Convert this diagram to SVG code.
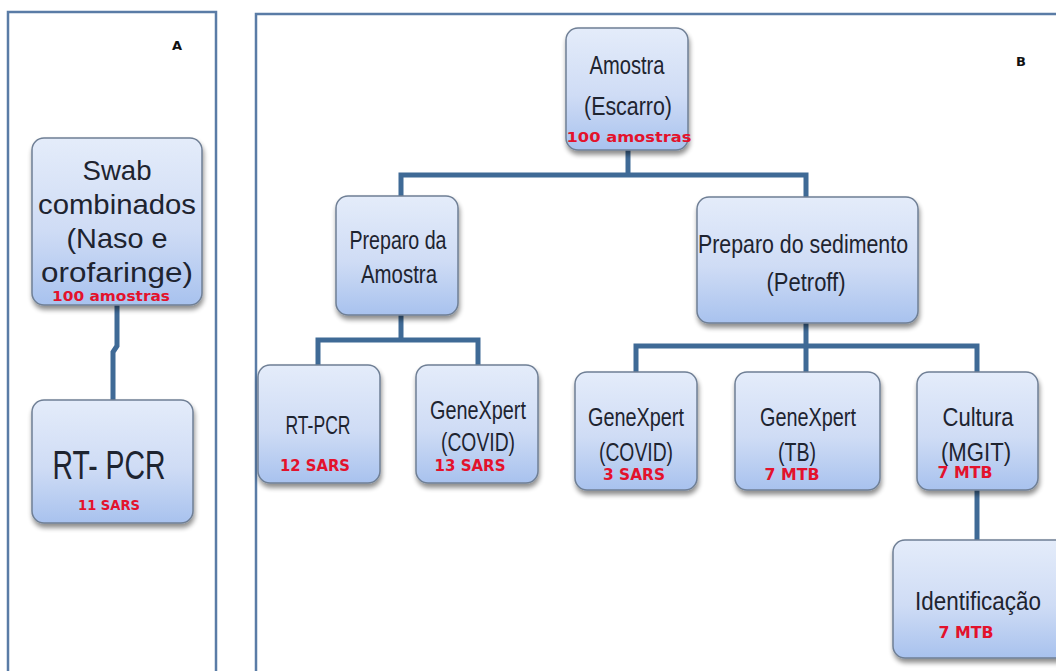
<svg xmlns="http://www.w3.org/2000/svg" width="1056" height="671" viewBox="0 0 1056 671">
<defs>
<linearGradient id="g" x1="0" y1="0" x2="0" y2="1">
<stop offset="0" stop-color="#e4ecfa"/>
<stop offset="0.55" stop-color="#cfdcf5"/>
<stop offset="1" stop-color="#a8c2ee"/>
</linearGradient>
<filter id="sh" x="-10%" y="-10%" width="125%" height="130%">
<feGaussianBlur in="SourceAlpha" stdDeviation="2.5"/>
<feOffset dx="1" dy="4" result="b"/>
<feComponentTransfer><feFuncA type="linear" slope="0.45"/></feComponentTransfer>
<feMerge><feMergeNode/><feMergeNode in="SourceGraphic"/></feMerge>
</filter>
</defs>
<style>
.panel{fill:#ffffff;stroke:#5a7ca6;stroke-width:2.5}
.box{fill:url(#g);stroke:#6f7f95;stroke-width:1.5;filter:url(#sh)}
.t{font-family:"Liberation Sans",Arial,sans-serif;fill:#1e2430;text-anchor:middle}
.r{font-family:"DejaVu Sans",Verdana,sans-serif;font-weight:bold;fill:#e3122c;text-anchor:middle}
.lab{font-family:"DejaVu Sans",Verdana,sans-serif;font-weight:bold;font-size:13px;fill:#111}
.c{fill:none;stroke:#3f6a96;stroke-width:5}
</style>
<rect width="1056" height="671" fill="#ffffff"/>
<rect class="panel" x="8" y="12" width="208" height="680"/>
<rect class="panel" x="256" y="14" width="820" height="680"/>
<text class="lab" x="172" y="50">A</text>
<text class="lab" x="1016" y="66">B</text>

<g id="connectors">
<polyline class="c" points="117,305 117,346 113,352 113,402"/>
<polyline class="c" points="628,150 628,175"/>
<polyline class="c" points="401,198 401,175 806,175 806,199"/>
<polyline class="c" points="401,315 401,340"/>
<polyline class="c" points="318,367 318,340 478,340 478,367"/>
<polyline class="c" points="806,323 806,374"/>
<polyline class="c" points="636,374 636,346 977,346 977,374"/>
<polyline class="c" points="977,490 977,542"/>
</g>

<g id="swab">
<rect class="box" x="32" y="138" width="170" height="167" rx="12"/>
<text class="t" font-size="28" x="117" y="180" textLength="69" lengthAdjust="spacingAndGlyphs">Swab</text>
<text class="t" font-size="28" x="117" y="214" textLength="158" lengthAdjust="spacingAndGlyphs">combinados</text>
<text class="t" font-size="28" x="117" y="248" textLength="101" lengthAdjust="spacingAndGlyphs">(Naso e</text>
<text class="t" font-size="28" x="117" y="282" textLength="152" lengthAdjust="spacingAndGlyphs">orofaringe)</text>
<text class="r" font-size="14" x="111" y="301" textLength="118" lengthAdjust="spacingAndGlyphs">100 amostras</text>
</g>

<g id="rtpcr-a">
<rect class="box" x="32" y="400" width="161" height="123" rx="12"/>
<text class="t" font-size="40" x="109" y="479" textLength="113" lengthAdjust="spacingAndGlyphs">RT- PCR</text>
<text class="r" font-size="14" x="109" y="510" textLength="62" lengthAdjust="spacingAndGlyphs">11 SARS</text>
</g>

<g id="amostra">
<rect class="box" x="566" y="28" width="122" height="122" rx="12"/>
<text class="t" font-size="25" x="627" y="74" textLength="75" lengthAdjust="spacingAndGlyphs">Amostra</text>
<text class="t" font-size="25" x="628" y="115" textLength="88" lengthAdjust="spacingAndGlyphs">(Escarro)</text>
<text class="r" font-size="14" x="629" y="142" textLength="125" lengthAdjust="spacingAndGlyphs">100 amostras</text>
</g>

<g id="preparo-amostra">
<rect class="box" x="336" y="196" width="122" height="119" rx="12"/>
<text class="t" font-size="25" x="398" y="249" textLength="97" lengthAdjust="spacingAndGlyphs">Preparo da</text>
<text class="t" font-size="25" x="399" y="283" textLength="76" lengthAdjust="spacingAndGlyphs">Amostra</text>
</g>

<g id="preparo-sedimento">
<rect class="box" x="697" y="197" width="221" height="126" rx="12"/>
<text class="t" font-size="25" x="803" y="253" textLength="210" lengthAdjust="spacingAndGlyphs">Preparo do sedimento</text>
<text class="t" font-size="25" x="806" y="291" textLength="79" lengthAdjust="spacingAndGlyphs">(Petroff)</text>
</g>

<g id="rtpcr-b">
<rect class="box" x="258" y="365" width="122" height="118" rx="12"/>
<text class="t" font-size="25" x="318" y="434" textLength="65" lengthAdjust="spacingAndGlyphs">RT-PCR</text>
<text class="r" font-size="15" x="315" y="471" textLength="70" lengthAdjust="spacingAndGlyphs">12 SARS</text>
</g>

<g id="genexpert-covid-1">
<rect class="box" x="416" y="365" width="122" height="118" rx="12"/>
<text class="t" font-size="25" x="478" y="419" textLength="96" lengthAdjust="spacingAndGlyphs">GeneXpert</text>
<text class="t" font-size="25" x="478" y="451" textLength="74" lengthAdjust="spacingAndGlyphs">(COVID)</text>
<text class="r" font-size="15" x="470" y="471" textLength="71" lengthAdjust="spacingAndGlyphs">13 SARS</text>
</g>

<g id="genexpert-covid-2">
<rect class="box" x="575" y="372" width="122" height="118" rx="12"/>
<text class="t" font-size="25" x="636" y="426" textLength="96" lengthAdjust="spacingAndGlyphs">GeneXpert</text>
<text class="t" font-size="25" x="636" y="461" textLength="74" lengthAdjust="spacingAndGlyphs">(COVID)</text>
<text class="r" font-size="15" x="634" y="480" textLength="62" lengthAdjust="spacingAndGlyphs">3 SARS</text>
</g>

<g id="genexpert-tb">
<rect class="box" x="735" y="372" width="145" height="118" rx="12"/>
<text class="t" font-size="25" x="808" y="426" textLength="96" lengthAdjust="spacingAndGlyphs">GeneXpert</text>
<text class="t" font-size="25" x="797" y="461" textLength="38" lengthAdjust="spacingAndGlyphs">(TB)</text>
<text class="r" font-size="15" x="792" y="480" textLength="55" lengthAdjust="spacingAndGlyphs">7 MTB</text>
</g>

<g id="cultura">
<rect class="box" x="917" y="372" width="121" height="118" rx="12"/>
<text class="t" font-size="25" x="978" y="426" textLength="71" lengthAdjust="spacingAndGlyphs">Cultura</text>
<text class="t" font-size="25" x="976" y="461" textLength="70" lengthAdjust="spacingAndGlyphs">(MGIT)</text>
<text class="r" font-size="15" x="965" y="478" textLength="55" lengthAdjust="spacingAndGlyphs">7 MTB</text>
</g>

<g id="identificacao">
<rect class="box" x="893" y="540" width="180" height="118" rx="12"/>
<text class="t" font-size="25" x="978" y="610" textLength="126" lengthAdjust="spacingAndGlyphs">Identificação</text>
<text class="r" font-size="15" x="966" y="638" textLength="55" lengthAdjust="spacingAndGlyphs">7 MTB</text>
</g>
</svg>
